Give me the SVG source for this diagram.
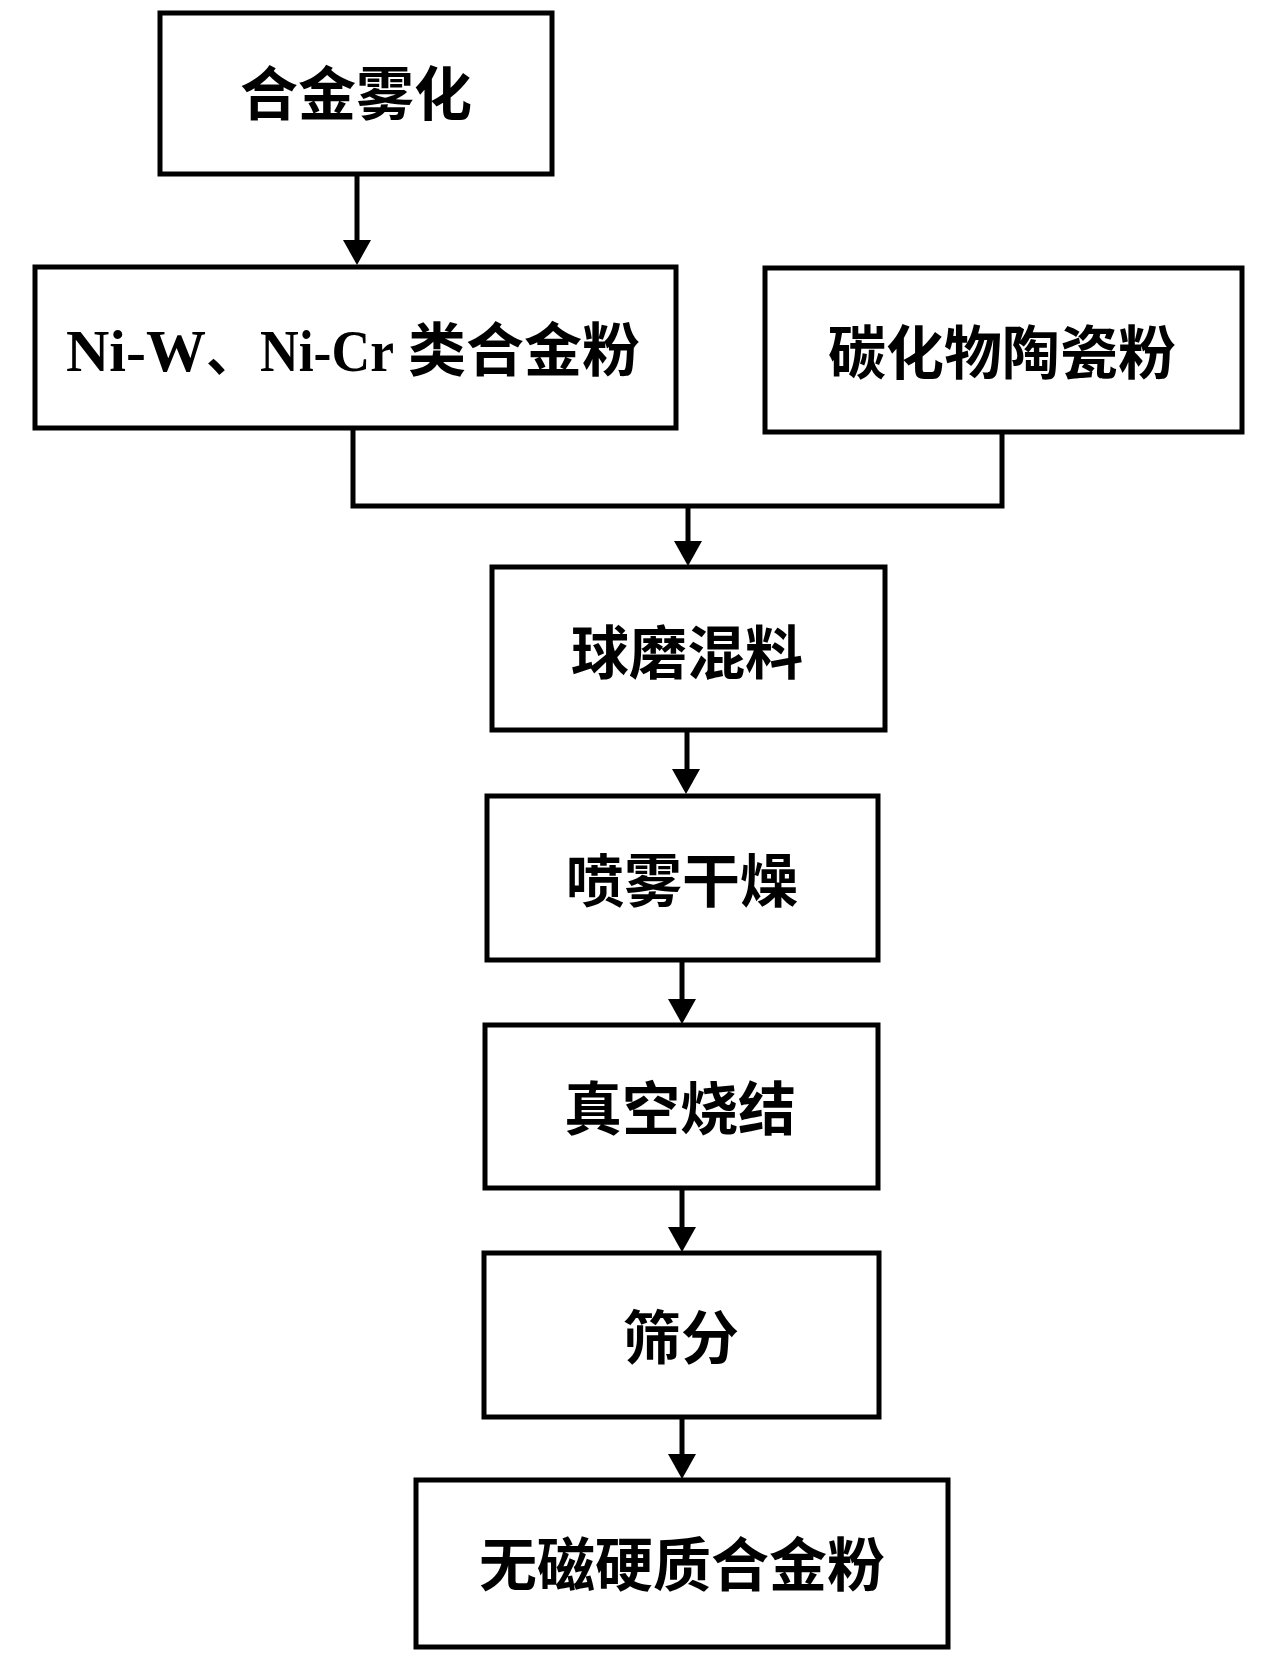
<svg xmlns="http://www.w3.org/2000/svg" width="1268" height="1665" viewBox="0 0 1268 1665">
<defs>
<style>
.box{fill:#fff;stroke:#000;stroke-width:5}
.t{font-family:"Noto Sans CJK SC","Noto Sans CJK TC",sans-serif;font-weight:bold;font-size:58px;text-anchor:middle;fill:#000}
.lat{font-family:"Liberation Serif","Noto Sans CJK SC",serif;font-weight:bold;font-size:60px}
.c{fill:none;stroke:#000;stroke-width:5}
.ah{fill:#000}
</style>
</defs>
<rect width="1268" height="1665" fill="#fff"/>
<g id="connectors">
<path class="c" d="M357,174 V240" />
<path class="ah" d="M343,240 L371,240 L357,265 Z"/>
<path class="c" d="M353,428 V506 H1002 V432" />
<path class="c" d="M688,506 V542" />
<path class="ah" d="M674,541 L702,541 L688,566 Z"/>
<path class="c" d="M687,730 V770" />
<path class="ah" d="M672,769 L700,769 L686,794 Z"/>
<path class="c" d="M682,960 V1000" />
<path class="ah" d="M668,999 L696,999 L682,1024 Z"/>
<path class="c" d="M682,1188 V1228" />
<path class="ah" d="M668,1227 L696,1227 L682,1252 Z"/>
<path class="c" d="M682,1417 V1455" />
<path class="ah" d="M668,1454 L696,1454 L682,1479 Z"/>
</g>
<g id="n1"><rect class="box" x="160" y="13" width="392" height="161"/><text class="t" x="356" y="115">合金雾化</text></g>
<g id="n2"><rect class="box" x="35" y="267" width="641" height="161"/>
<text class="t" y="371" style="text-anchor:start"><tspan class="lat" x="66" textLength="140" lengthAdjust="spacingAndGlyphs">Ni-W</tspan><tspan x="206" style="font-size:52px">、</tspan><tspan class="lat" x="260" textLength="134" lengthAdjust="spacingAndGlyphs">Ni-Cr</tspan><tspan x="408">类合金粉</tspan></text></g>
<g id="n3"><rect class="box" x="765" y="268" width="477" height="164"/><text class="t" x="1002" y="374">碳化物陶瓷粉</text></g>
<g id="n4"><rect class="box" x="492" y="567" width="393" height="163"/><text class="t" x="687" y="674">球磨混料</text></g>
<g id="n5"><rect class="box" x="487" y="796" width="391" height="164"/><text class="t" x="682" y="902">喷雾干燥</text></g>
<g id="n6"><rect class="box" x="485" y="1025" width="393" height="163"/><text class="t" x="680" y="1130">真空烧结</text></g>
<g id="n7"><rect class="box" x="484" y="1253" width="395" height="164"/><text class="t" x="681" y="1359">筛分</text></g>
<g id="n8"><rect class="box" x="416" y="1480" width="532" height="167"/><text class="t" x="682" y="1586">无磁硬质合金粉</text></g>
</svg>
